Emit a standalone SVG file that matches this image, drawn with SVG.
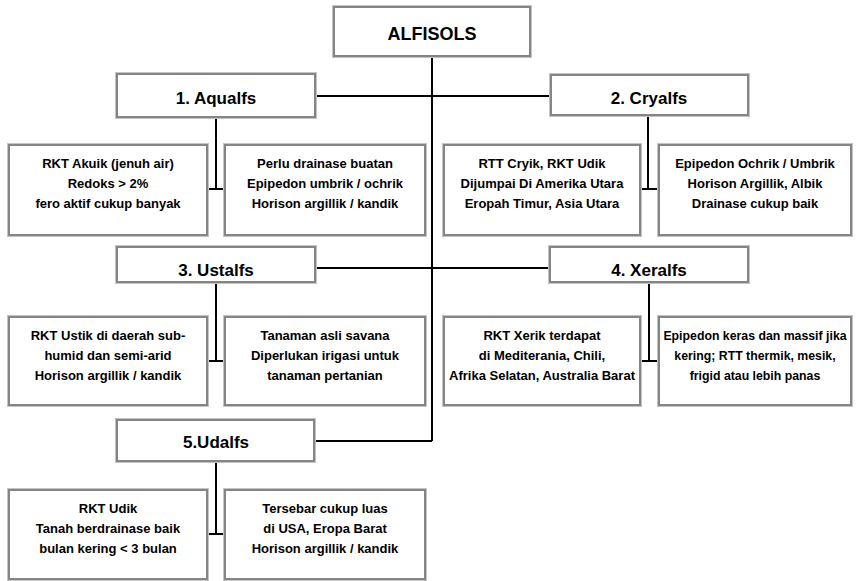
<svg xmlns="http://www.w3.org/2000/svg" width="859" height="581" viewBox="0 0 859 581">
<style>
.o{fill:none;stroke:#c4c4c4;stroke-width:1}
.b{fill:#fff;stroke:#858585;stroke-width:2}
.t{font-family:"Liberation Sans",Arial,sans-serif;font-weight:bold;fill:#000;text-anchor:middle}
.h{font-size:17px}
.s{font-size:13px}
.s2{font-size:12.3px}
.c{stroke:#000;stroke-width:2;fill:none}
</style>
<rect width="859" height="581" fill="#fff"/>
<g id="connectors">
<path class="c" d="M432 58V441M317 96H549M317 268H548M316 441H432"/>
<path class="c" d="M216 119V189M209 189H223M648 117V189M642 189H657"/>
<path class="c" d="M216 283V361M209 361H223M649 283V361M642 361H657"/>
<path class="c" d="M216 463V534M209 534H223"/>
</g>
<g id="alfisols"><rect class="o" x="332.5" y="5.5" width="199" height="52"/><rect class="b" x="334" y="7" width="196" height="49"/><text class="t" x="432" y="40" font-size="18">ALFISOLS</text></g>
<g id="aqualfs"><rect class="o" x="115.5" y="72.5" width="201" height="46"/><rect class="b" x="117" y="74" width="198" height="43"/><text class="t h" x="216" y="104">1. Aqualfs</text></g>
<g id="cryalfs"><rect class="o" x="549.5" y="73.5" width="200" height="43"/><rect class="b" x="551" y="75" width="197" height="40"/><text class="t h" x="649" y="104">2. Cryalfs</text></g>
<g id="ustalfs"><rect class="o" x="115.5" y="245.5" width="201" height="38"/><rect class="b" x="117" y="247" width="198" height="35"/><text class="t h" x="216" y="276">3. Ustalfs</text></g>
<g id="xeralfs"><rect class="o" x="548.5" y="245.5" width="201" height="38"/><rect class="b" x="550" y="247" width="198" height="35"/><text class="t h" x="649" y="276">4. Xeralfs</text></g>
<g id="udalfs"><rect class="o" x="115.5" y="418.5" width="200" height="44"/><rect class="b" x="117" y="420" width="197" height="41"/><text class="t h" x="216" y="448">5.Udalfs</text></g>

<g id="aqualfs-a"><rect class="o" x="7.5" y="143.5" width="201" height="93"/><rect class="b" x="9" y="145" width="198" height="90"/>
<text class="t s" x="108" y="168">RKT Akuik (jenuh air)</text><text class="t s" x="108" y="188">Redoks &gt; 2%</text><text class="t s" x="108" y="208">fero aktif cukup banyak</text></g>
<g id="aqualfs-b"><rect class="o" x="223.5" y="143.5" width="203" height="93"/><rect class="b" x="225" y="145" width="200" height="90"/>
<text class="t s" x="325" y="168">Perlu drainase buatan</text><text class="t s" x="325" y="188">Epipedon umbrik / ochrik</text><text class="t s" x="325" y="208">Horison argillik / kandik</text></g>
<g id="cryalfs-a"><rect class="o" x="442.5" y="143.5" width="199" height="93"/><rect class="b" x="444" y="145" width="196" height="90"/>
<text class="t s" x="542" y="168">RTT Cryik, RKT Udik</text><text class="t s" x="542" y="188">Dijumpai Di Amerika Utara</text><text class="t s" x="542" y="208">Eropah Timur, Asia Utara</text></g>
<g id="cryalfs-b"><rect class="o" x="657.5" y="143.5" width="195" height="93"/><rect class="b" x="659" y="145" width="192" height="90"/>
<text class="t s" x="755" y="168">Epipedon Ochrik / Umbrik</text><text class="t s" x="755" y="188">Horison Argillik, Albik</text><text class="t s" x="755" y="208">Drainase cukup baik</text></g>

<g id="ustalfs-a"><rect class="o" x="7.5" y="315.5" width="201" height="91"/><rect class="b" x="9" y="317" width="198" height="88"/>
<text class="t s" x="108" y="340">RKT Ustik di daerah sub-</text><text class="t s" x="108" y="360">humid dan semi-arid</text><text class="t s" x="108" y="380">Horison argillik / kandik</text></g>
<g id="ustalfs-b"><rect class="o" x="223.5" y="315.5" width="203" height="91"/><rect class="b" x="225" y="317" width="200" height="88"/>
<text class="t s" x="325" y="340">Tanaman asli savana</text><text class="t s" x="325" y="360">Diperlukan irigasi untuk</text><text class="t s" x="325" y="380">tanaman pertanian</text></g>
<g id="xeralfs-a"><rect class="o" x="442.5" y="315.5" width="199" height="91"/><rect class="b" x="444" y="317" width="196" height="88"/>
<text class="t s" x="542" y="340">RKT Xerik terdapat</text><text class="t s" x="542" y="360">di Mediterania, Chili,</text><text class="t s" x="542" y="380">Afrika Selatan, Australia Barat</text></g>
<g id="xeralfs-b"><rect class="o" x="657.5" y="315.5" width="195" height="91"/><rect class="b" x="659" y="317" width="192" height="88"/>
<text class="t s2" x="755" y="340">Epipedon keras dan massif jika</text><text class="t s2" x="755" y="360">kering; RTT thermik, mesik,</text><text class="t s2" x="755" y="380">frigid atau lebih panas</text></g>

<g id="udalfs-a"><rect class="o" x="7.5" y="488.5" width="201" height="92"/><rect class="b" x="9" y="490" width="198" height="89"/>
<text class="t s" x="108" y="513">RKT Udik</text><text class="t s" x="108" y="533">Tanah berdrainase baik</text><text class="t s" x="108" y="553">bulan kering &lt; 3 bulan</text></g>
<g id="udalfs-b"><rect class="o" x="223.5" y="488.5" width="203" height="92"/><rect class="b" x="225" y="490" width="200" height="89"/>
<text class="t s" x="325" y="513">Tersebar cukup luas</text><text class="t s" x="325" y="533">di USA, Eropa Barat</text><text class="t s" x="325" y="553">Horison argillik / kandik</text></g>
</svg>
